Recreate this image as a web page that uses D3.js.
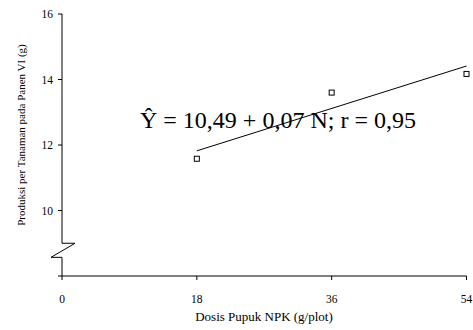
<!DOCTYPE html>
<html>
<head>
<meta charset="utf-8">
<script src="https://cdnjs.cloudflare.com/ajax/libs/d3/7.8.5/d3.min.js"></script>
<style>
  body { margin: 0; background: #fff; }
  svg text { font-family: "Liberation Serif", "Times New Roman", serif; fill: #000; }
</style>
</head>
<body>
<svg width="473" height="330"></svg>
<script>
// data
var dosis = [18, 36, 54];
var produksi = [11.58, 13.6, 14.17];
var xTicks = [0, 18, 36, 54];
var yTicks = [10, 12, 14, 16];
var equation = "\u0176 = 10,49 + 0,07 N; r = 0,95";

var svg = d3.select("svg");

var x = d3.scaleLinear().domain([0, 54]).range([62, 466.5]);
var y = d3.scaleLinear().domain([8, 16]).range([276, 14]);

// y axis with break
var breakHi = 9.0, breakLo = 8.57;
var ax = x(0);
var yAxisPath = d3.path();
yAxisPath.moveTo(ax, y(16));
yAxisPath.lineTo(ax, y(breakHi));
yAxisPath.lineTo(ax + 13, y(breakHi));
yAxisPath.lineTo(ax - 11, y(breakLo));
yAxisPath.lineTo(ax, y(breakLo));
yAxisPath.lineTo(ax, y(8));
svg.append("path")
    .attr("d", yAxisPath.toString())
    .attr("fill", "none")
    .attr("stroke", "#000")
    .attr("stroke-width", 1);

svg.selectAll(".ytick")
  .data(yTicks)
  .enter().append("line")
    .attr("x1", ax - 4).attr("x2", ax)
    .attr("y1", function(d) { return y(d); })
    .attr("y2", function(d) { return y(d); })
    .attr("stroke", "#000");

svg.selectAll(".ylab")
  .data(yTicks)
  .enter().append("text")
    .attr("x", ax - 9)
    .attr("y", function(d) { return y(d) + 4; })
    .attr("text-anchor", "end")
    .style("font-size", "11.5px")
    .text(function(d) { return d; });

// x axis
svg.append("line")
    .attr("x1", ax - 4).attr("x2", x(54))
    .attr("y1", y(8)).attr("y2", y(8))
    .attr("stroke", "#000");

svg.selectAll(".xtick")
  .data(xTicks)
  .enter().append("line")
    .attr("x1", function(d) { return x(d); })
    .attr("x2", function(d) { return x(d); })
    .attr("y1", y(8)).attr("y2", y(8) + 4)
    .attr("stroke", "#000");

svg.selectAll(".xlab")
  .data(xTicks)
  .enter().append("text")
    .attr("x", function(d) { return x(d); })
    .attr("y", 303)
    .attr("text-anchor", "middle")
    .style("font-size", "11.5px")
    .text(function(d) { return d; });

// titles
svg.append("text")
    .attr("x", 264).attr("y", 321)
    .attr("text-anchor", "middle")
    .style("font-size", "13px")
    .text("Dosis Pupuk NPK (g/plot)");

svg.append("text")
    .attr("transform", "translate(25,135) rotate(-90)")
    .attr("text-anchor", "middle")
    .style("font-size", "11px")
    .text("Produksi per Tanaman pada Panen VI (g)");

// least squares trend line from the points
var mx = d3.mean(dosis), my = d3.mean(produksi);
var sxy = d3.sum(dosis, function(d, i) { return (d - mx) * (produksi[i] - my); });
var sxx = d3.sum(dosis, function(d) { return (d - mx) * (d - mx); });
var b = sxy / sxx, a = my - b * mx;

svg.append("line")
    .attr("x1", x(18)).attr("y1", y(a + b * 18))
    .attr("x2", x(54)).attr("y2", y(a + b * 54))
    .attr("stroke", "#000")
    .attr("stroke-width", 1);

// points
svg.selectAll(".pt")
  .data(dosis)
  .enter().append("rect")
    .attr("x", function(d) { return x(d) - 2.5; })
    .attr("y", function(d, i) { return y(produksi[i]) - 2.5; })
    .attr("width", 5).attr("height", 5)
    .attr("fill", "#fff")
    .attr("stroke", "#000")
    .attr("stroke-width", 1);

// equation
svg.append("text")
    .attr("x", 140).attr("y", 128)
    .style("font-size", "24px")
    .text(equation);
</script>
</body>
</html>
